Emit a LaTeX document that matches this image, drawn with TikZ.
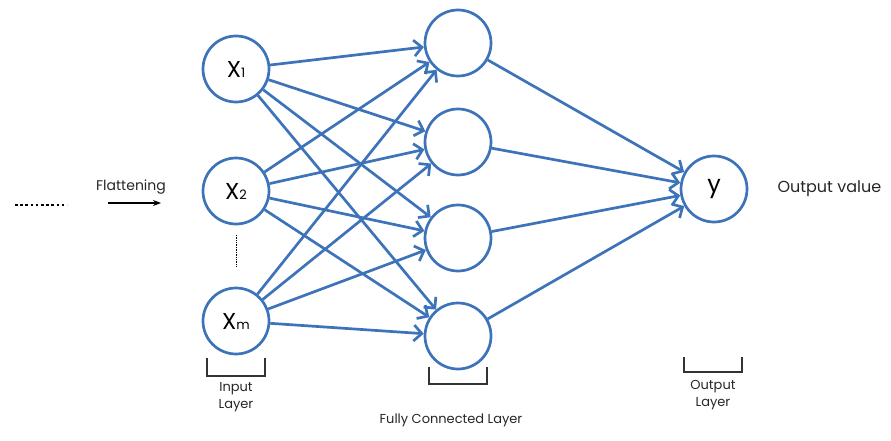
\documentclass[tikz,border=0pt]{standalone}
\usepackage{fontspec}
\setmainfont{Poppins}
\usetikzlibrary{arrows.meta}
\definecolor{netblue}{RGB}{61,115,185}
\tikzset{
  neuron/.style={circle, draw=netblue, line width=2.7pt, minimum size=66pt, inner sep=0pt, fill=white},
  conn/.style={netblue, line width=2.7pt, -{Straight Barb[length=8pt,width=16pt,line width=2.7pt]}},
  bracket/.style={line width=1.3pt, black!80},
  lbl/.style={font=\fontsize{13}{17}\selectfont, text=black!85, align=center}
}
\newcommand{\xin}[1]{{\fontsize{23}{23}\selectfont X}{\fontsize{13}{13}\selectfont #1}}

\begin{document}
\begin{tikzpicture}[x=1pt, y=-1pt]
\useasboundingbox (0,0) rectangle (891,441);

% input layer
\node[neuron] (x1) at (236,69) {\xin{1}};
\node[neuron] (x2) at (236,191) {\xin{2}};
\node[neuron] (xm) at (236,321) {\xin{m}};
\draw[densely dotted, line width=0.7pt] (236,235) -- (236,267);

% fully connected layer
\node[neuron] (h1) at (458,43) {};
\node[neuron] (h2) at (458,142) {};
\node[neuron] (h3) at (458,238) {};
\node[neuron] (h4) at (458,336) {};

% output layer
\node[neuron] (y) at (714,189) {\fontsize{24}{24}\selectfont y};

\draw[conn] (x1) -- (h1);
\draw[conn] (x1) -- (h2);
\draw[conn] (x1) -- (h3);
\draw[conn] (x1) -- (h4);
\draw[conn] (x2) -- (h1);
\draw[conn] (x2) -- (h2);
\draw[conn] (x2) -- (h3);
\draw[conn] (x2) -- (h4);
\draw[conn] (xm) -- (h1);
\draw[conn] (xm) -- (h2);
\draw[conn] (xm) -- (h3);
\draw[conn] (xm) -- (h4);

\draw[conn] (h1) -- (y);
\draw[conn] (h2) -- (y);
\draw[conn] (h3) -- (y);
\draw[conn] (h4) -- (y);

% flattening
\draw[line width=2.6pt, dash pattern=on 2.6pt off 2.6pt] (15,205) -- (67,205);
\node[lbl, font=\fontsize{14}{16}\selectfont] (flat) at (131,187) {Flattening};
\coordinate (fa) at (108,203);
\coordinate (fb) at (161,203);
\draw[line width=1.3pt, -{Stealth[length=8pt,width=6pt]}] (fa) -- (fb);

\node[lbl, font=\fontsize{16}{18}\selectfont, anchor=west] (outval) at (774,189) {Output value};

% brackets
\draw[bracket] (207,358) -- (207,376) -- (265,376) -- (265,358);
\node[lbl] (inlbl) at (236,397) {Input\\Layer};
\draw[bracket] (429,367) -- (429,384) -- (487,384) -- (487,367);
\node[lbl] (fclbl) at (451,420) {Fully Connected Layer};
\draw[bracket] (684,357) -- (684,372) -- (742,372) -- (742,357);
\node[lbl] (outlbl) at (713,395) {Output\\Layer};

\end{tikzpicture}
\end{document}
